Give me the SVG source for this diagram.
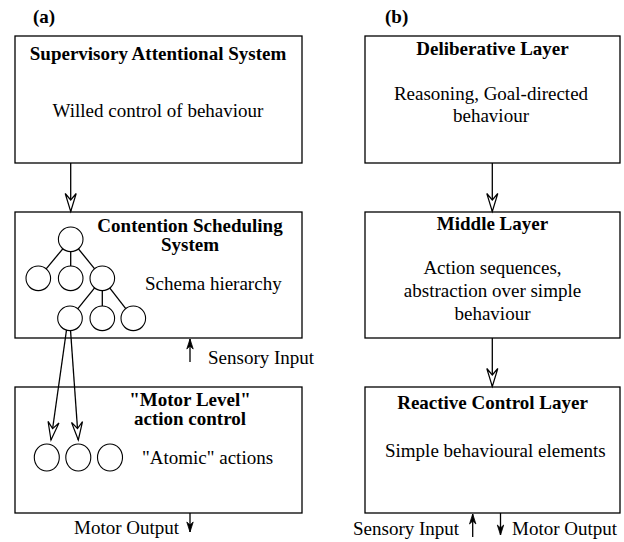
<svg xmlns="http://www.w3.org/2000/svg" width="624" height="542" viewBox="0 0 624 542">
<style>
.box{fill:#fff;stroke:#000;stroke-width:1.3}
.ln{fill:none;stroke:#000;stroke-width:1.3}
.c{fill:#fff;stroke:#000;stroke-width:1.1}
.t{font-family:"Liberation Serif","Times New Roman",serif;font-size:19px;fill:#000}
.b{font-weight:bold}
.m{text-anchor:middle}
</style>
<defs>
<marker id="open" viewBox="-20 -7 21 14" refX="0" refY="0" markerWidth="21" markerHeight="14" markerUnits="userSpaceOnUse" orient="auto" overflow="visible">
<path d="M0,0 L-18,-5.5 L-11.5,0 L-18,5.5 Z" fill="#fff" stroke="#000" stroke-width="1.2" stroke-linejoin="miter"/>
</marker>
<marker id="fill" viewBox="-11 -5 12 10" refX="0" refY="0" markerWidth="12" markerHeight="10" markerUnits="userSpaceOnUse" orient="auto" overflow="visible">
<path d="M0,0 L-10,-3.2 L-7,0 L-10,3.2 Z" fill="#000" stroke="#000" stroke-width="0.8"/>
</marker>
</defs>

<text class="t b" x="33" y="23">(a)</text>
<text class="t b" x="385" y="23">(b)</text>

<g id="sas">
<rect class="box" x="15" y="36" width="287" height="127"/>
<text class="t b m" x="158" y="60">Supervisory Attentional System</text>
<text class="t m" x="158" y="116.5">Willed control of behaviour</text>
</g>

<g id="css">
<rect class="box" x="15" y="212" width="287" height="126"/>
<text class="t b m" x="190" y="232">Contention Scheduling</text>
<text class="t b m" x="190" y="251">System</text>
<text class="t" x="145" y="290">Schema hierarchy</text>
</g>

<g id="schema-tree">
<g class="ln">
<line x1="70.7" y1="239.3" x2="38.3" y2="278.3"/>
<line x1="70.7" y1="239.3" x2="70.7" y2="278.3"/>
<line x1="70.7" y1="239.3" x2="102.3" y2="278.3"/>
<line x1="102.3" y1="278.3" x2="70" y2="318.3"/>
<line x1="102.3" y1="278.3" x2="102.3" y2="318.3"/>
<line x1="102.3" y1="278.3" x2="133.3" y2="318.3"/>
</g>
<circle class="c" cx="70.7" cy="239.3" r="12.3"/>
<circle class="c" cx="38.3" cy="278.3" r="12.3"/>
<circle class="c" cx="70.7" cy="278.3" r="12.3"/>
<circle class="c" cx="102.3" cy="278.3" r="12.3"/>
<circle class="c" cx="70" cy="318.3" r="12.3"/>
<circle class="c" cx="102.3" cy="318.3" r="12.3"/>
<circle class="c" cx="133.3" cy="318.3" r="12.3"/>
</g>

<g id="motor">
<rect class="box" x="15" y="387" width="287" height="126"/>
<text class="t b m" x="190" y="405.5">"Motor Level"</text>
<text class="t b m" x="190" y="424.5">action control</text>
<text class="t" x="142" y="463.5">"Atomic" actions</text>
<ellipse class="c" cx="46.8" cy="457.5" rx="12.5" ry="13.5"/>
<ellipse class="c" cx="78.3" cy="457.5" rx="12.5" ry="13.5"/>
<ellipse class="c" cx="110" cy="457.5" rx="12.5" ry="13.5"/>
</g>

<g id="delib">
<rect class="box" x="365" y="36" width="255" height="127"/>
<text class="t b m" x="492.5" y="55">Deliberative Layer</text>
<text class="t m" x="491" y="100">Reasoning, Goal-directed</text>
<text class="t m" x="491" y="121.5">behaviour</text>
</g>

<g id="middle">
<rect class="box" x="365" y="212" width="255" height="126"/>
<text class="t b m" x="492.5" y="230">Middle Layer</text>
<text class="t m" x="492.5" y="273.5">Action sequences,</text>
<text class="t m" x="492.5" y="296.5">abstraction over simple</text>
<text class="t m" x="492.5" y="320">behaviour</text>
</g>

<g id="reactive">
<rect class="box" x="365" y="387" width="255" height="126"/>
<text class="t b m" x="492.5" y="409">Reactive Control Layer</text>
<text class="t" x="385" y="457">Simple behavioural elements</text>
</g>

<g id="io-labels">
<text class="t" x="208" y="363.5">Sensory Input</text>
<text class="t" x="74" y="533.5">Motor Output</text>
<text class="t" x="353" y="535">Sensory Input</text>
<text class="t" x="512" y="535">Motor Output</text>
</g>

<g id="connectors" class="ln">
<line x1="70.7" y1="163" x2="70.7" y2="211.5" marker-end="url(#open)"/>
<line x1="492.3" y1="163" x2="492.3" y2="211.5" marker-end="url(#open)"/>
<line x1="492.3" y1="338" x2="492.3" y2="386.5" marker-end="url(#open)"/>
<line x1="66.5" y1="330" x2="51" y2="440" marker-end="url(#open)"/>
<line x1="70.5" y1="330" x2="78.3" y2="440" marker-end="url(#open)"/>
<line x1="190" y1="362" x2="190" y2="339" marker-end="url(#fill)"/>
<line x1="190" y1="513" x2="190" y2="532" marker-end="url(#fill)"/>
<line x1="472.7" y1="537" x2="472.7" y2="514" marker-end="url(#fill)"/>
<line x1="500.5" y1="513" x2="500.5" y2="535" marker-end="url(#fill)"/>
</g>
</svg>
